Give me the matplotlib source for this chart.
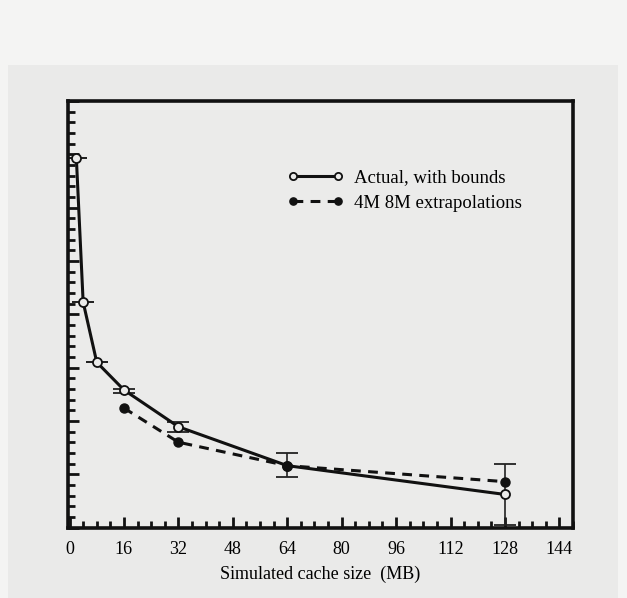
import numpy as np
import matplotlib.pyplot as plt
from matplotlib.patches import Rectangle
from matplotlib.ticker import MultipleLocator, NullFormatter

# cache sizes (MB) and miss values
sizes = [2, 4, 8, 16, 32, 64, 128]
actual = [34.7, 21.15, 15.5, 12.9, 9.45, 5.8, 3.1]
actual_lo = [34.7, 21.15, 15.5, 12.6, 9.0, 4.7, 0.2]
actual_hi = [34.7, 21.15, 15.5, 13.0, 9.85, 7.0, 6.0]

extrap_sizes = [16, 32, 64, 128]
extrap = [11.2, 8.0, 5.8, 4.3]

xticks = [0, 16, 32, 48, 64, 80, 96, 112, 128, 144]

plt.rcParams['font.family'] = ['Liberation Serif', 'DejaVu Serif']

fig = plt.figure(figsize=(6.27, 5.98), dpi=100)
fig.patch.set_facecolor('#f4f4f3')
panel = Rectangle((8 / 627, 0), 610 / 627, 533 / 598,
                  transform=fig.transFigure, facecolor='#eaeae9',
                  edgecolor='none', zorder=-10)
fig.add_artist(panel)

ax = fig.add_axes([68 / 627, 70.5 / 598, 505 / 627, 426.5 / 598])
ax.set_facecolor('#ebebea')

yerr = [np.array(actual) - np.array(actual_lo), np.array(actual_hi) - np.array(actual)]
ax.errorbar(sizes, actual, yerr=yerr, fmt='none', ecolor='#222222',
            elinewidth=1.2, capsize=8, capthick=1.3, zorder=2)
ax.plot(sizes, actual, '-', color='#111111', lw=2.2, marker='o', ms=6.5,
        mfc='#ebebea', mec='#111111', mew=1.3, zorder=3,
        label='Actual, with bounds')
ax.plot(extrap_sizes, extrap, '--', color='#111111', lw=2.2, dashes=(3.2, 2.4),
        marker='o', ms=6.5, mfc='#111111', mec='#111111', zorder=4,
        label='4M 8M extrapolations')

ax.set_xlim(-0.45, 148)
ax.set_ylim(0, 40)
ax.set_xticks(xticks)
ax.xaxis.set_minor_locator(MultipleLocator(4))
ax.yaxis.set_major_locator(MultipleLocator(5))
ax.yaxis.set_minor_locator(MultipleLocator(1))
ax.yaxis.set_major_formatter(NullFormatter())

ax.tick_params(which='both', direction='in', top=False, right=False,
               width=2, color='#111111')
ax.tick_params(which='major', length=8, labelsize=13, pad=10)
ax.tick_params(which='minor', length=5)
for s in ax.spines.values():
    s.set_linewidth(2.6)
    s.set_color('#111111')

ax.set_xlabel('Simulated cache size  (MB)', fontsize=13, labelpad=5)

ax.legend(loc='upper left', bbox_to_anchor=(0.40, 0.88), frameon=False,
          fontsize=13.5, numpoints=2, markerscale=0.8, handlelength=3.0,
          handletextpad=0.6, labelspacing=0.45)

fig.savefig('out.png', dpi=100, facecolor=fig.get_facecolor())
